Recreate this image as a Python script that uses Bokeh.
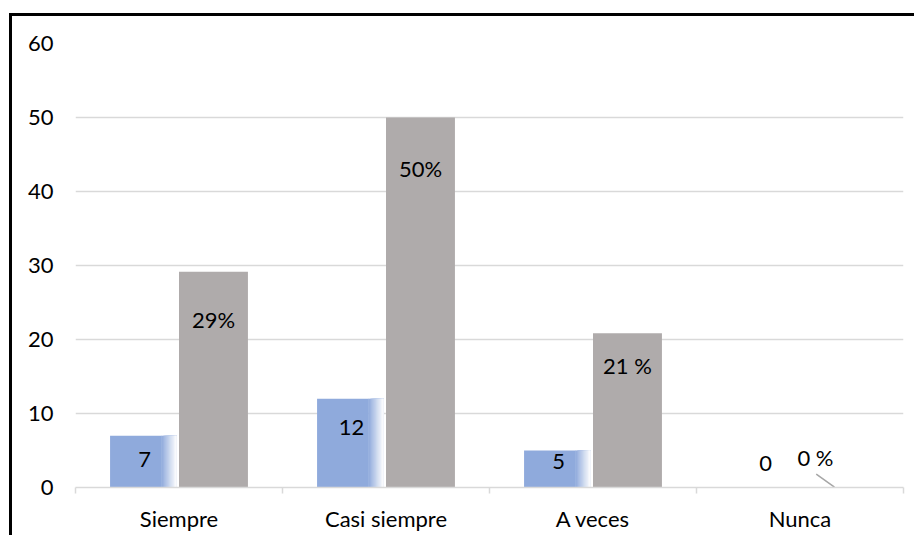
from bokeh.plotting import figure
from bokeh.models import Range1d, FixedTicker
from bokeh.core.properties import value
from bokeh.embed import file_html
from bokeh.resources import INLINE

categories = ["Siempre", "Casi siempre", "A veces", "Nunca"]
frecuencia = [7, 12, 5, 0]
porcentaje = [29.17, 50, 20.83, 0]
freq_labels = ["7", "12", "5", "0"]
pct_labels = ["29%", "50%", "21 %", "0 %"]
y_ticks = [0, 10, 20, 30, 40, 50, 60]

BLUE = "#8FAADC"
GRAY = "#AFABAB"
GRID = "#D9D9D9"
FONT = "Lato"
FS = "22px"

W, H = 905, 522
p = figure(width=W, height=H, x_range=Range1d(0, 4), y_range=Range1d(0, 60),
           output_backend="svg", toolbar_location=None,
           min_border_left=63, min_border_right=14, min_border_top=27, min_border_bottom=51)
p.margin = (13, 0, 0, 9)
p.styles = {"border-top": "3px solid black", "border-left": "3px solid black"}
p.outline_line_color = None
p.background_fill_color = "white"

n = len(categories)
centers = [i + 0.5 for i in range(n)]
bw = 0.333

# blue bars with fading right edge
fade_start = 0.085
fade_end = 0.012
p.quad(left=[c - bw for c in centers], right=[c - fade_start + 0.002 for c in centers],
       bottom=0, top=frecuencia, fill_color=BLUE, line_color=None)
steps = 12
def mix(t):
    r0, g0, b0 = 0x8F, 0xAA, 0xDC
    r = int(r0 + (255 - r0) * t); g = int(g0 + (255 - g0) * t); b = int(b0 + (255 - b0) * t)
    return "#%02x%02x%02x" % (r, g, b)
for k in range(steps):
    a = fade_start - (fade_start - fade_end) * k / steps
    p.quad(left=[c - a for c in centers], right=[c - fade_end for c in centers],
           bottom=0, top=frecuencia, fill_color=mix((k + 0.5) / steps), line_color=None)

# gray bars
p.quad(left=centers, right=[c + bw for c in centers], bottom=0, top=porcentaje,
       fill_color=GRAY, line_color=None)

# data labels
blue_x = [c - bw / 2 for c in centers]
gray_x = [c + bw / 2 for c in centers]
blue_yoff = [24, 29, 11, -24]
gray_yoff = [48, 51, 32, -30]
gray_xoff = [0, 0, 0, -19]
p.text(x=blue_x, y=frecuencia, text=freq_labels, y_offset=blue_yoff,
       text_align="center", text_baseline="middle", text_font=value(FONT),
       text_font_size=FS, text_color="black")
p.text(x=gray_x, y=porcentaje, text=pct_labels, y_offset=gray_yoff, x_offset=gray_xoff,
       text_align="center", text_baseline="middle", text_font=value(FONT),
       text_font_size=FS, text_color="black")
# leader line for the 0 % label
p.segment(x0=[gray_x[3] - 0.088], y0=[1.8], x1=[gray_x[3]], y1=[0.05],
          line_color="#A6A6A6", line_width=1.5)

# axes
p.xaxis.ticker = FixedTicker(ticks=centers, minor_ticks=list(range(n + 1)))
p.xaxis.major_label_overrides = {c: lab for c, lab in zip(centers, categories)}
p.xaxis.major_tick_line_color = None
p.xaxis.major_tick_out = 0
p.xaxis.minor_tick_line_color = GRID
p.xaxis.minor_tick_line_width = 1.5
p.xaxis.minor_tick_out = 6
p.xaxis.minor_tick_in = 0
p.xaxis.axis_line_color = GRID
p.xaxis.axis_line_width = 1.5
p.xaxis.major_label_standoff = 11
p.xaxis.major_label_text_font = FONT
p.xaxis.major_label_text_font_size = FS
p.xaxis.major_label_text_color = "black"

p.yaxis.ticker = FixedTicker(ticks=y_ticks)
p.yaxis.axis_line_color = None
p.yaxis.major_tick_line_color = None
p.yaxis.major_tick_out = 0
p.yaxis.minor_tick_line_color = None
p.yaxis.major_label_standoff = 22
p.yaxis.major_label_text_font = FONT
p.yaxis.major_label_text_font_size = FS
p.yaxis.major_label_text_color = "black"

p.xgrid.grid_line_color = None
p.ygrid.grid_line_color = GRID
p.ygrid.grid_line_width = 1.5

open("out.html", "w").write(file_html(p, INLINE))
